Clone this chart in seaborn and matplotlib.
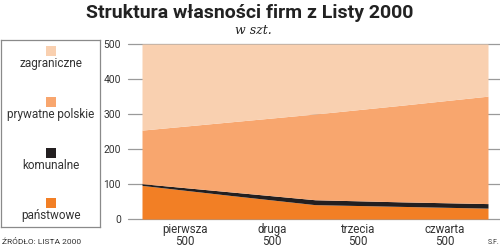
import matplotlib
matplotlib.use("Agg")
import matplotlib.pyplot as plt
import seaborn as sns
import numpy as np
import pandas as pd

# ---- data ----
categories = ["pierwsza\n500", "druga\n500", "trzecia\n500", "czwarta\n500"]
edge_x = [0, 1, 2, 3, 4]                    # boundaries of the four "500" groups
panstwowe = [96, 68, 41, 36, 31]
komunalne = [5, 10, 14, 13, 13]
prywatne = [153, 199, 245, 276, 307]
zagraniczne = [246, 223, 200, 175, 149]
series_names = ["państwowe", "komunalne", "prywatne polskie", "zagraniczne"]
series_colors = ["#f27f25", "#231f20", "#f8a66e", "#f9d0b0"]
yticks = [0, 100, 200, 300, 400, 500]

sns.set_theme(style="white")
plt.rcParams["font.family"] = ["Roboto", "DejaVu Sans"]

df = pd.DataFrame({"x": edge_x, "państwowe": panstwowe, "komunalne": komunalne,
                   "prywatne polskie": prywatne, "zagraniczne": zagraniczne})

fig = plt.figure(figsize=(5.0, 2.48), dpi=100)
ax = fig.add_axes([0.256, 29 / 248, 0.744, 175 / 248])

# grid lines (behind)
for t in yticks:
    ax.axhline(t, color="#9a9a9a", lw=0.9, zorder=0, clip_on=False)

bottom = np.zeros(len(edge_x))
for name, col in zip(series_names, series_colors):
    vals = df[name].to_numpy(dtype=float)
    ax.fill_between(df["x"], bottom, bottom + vals, color=col, lw=0, zorder=2)
    bottom = bottom + vals

ax.set_xlim(-14 / 86.5, 4 + 12 / 86.5)
ax.set_ylim(0, 500)
ax.set_yticks(yticks)
ax.set_yticklabels([str(t) for t in yticks], fontsize=7.4, color="#333333")
ax.set_xticks([0.5, 1.5, 2.5, 3.5])
ax.set_xticklabels(categories, fontsize=8.3, color="#333333", linespacing=0.92)
ax.tick_params(axis="y", length=0, pad=5)
ax.tick_params(axis="x", length=0, pad=3)
ax.set_xlabel("")
ax.set_ylabel("")
sns.despine(ax=ax, left=True, bottom=True, right=True, top=True)

# title and subtitle
fig.text(0.5, 1 - 13 / 248, "Struktura własności firm z Listy 2000", ha="center", va="center",
         fontsize=14, fontweight="bold", color="#222222")
fig.text(0.507, 1 - 31 / 248, "w szt.", ha="center", va="center", fontsize=9,
         style="italic", family="DejaVu Serif", color="#222222")

# legend box (spans figure pixels y=40..227)
lax = fig.add_axes([0.002, 21 / 248, 0.198, 187 / 248])
lax.set_xlim(0, 1)
lax.set_ylim(0, 187)
lax.set_xticks([])
lax.set_yticks([])
for s in lax.spines.values():
    s.set_color("#8a8a8a")
    s.set_linewidth(0.9)
leg_items = list(zip(series_names, series_colors))[::-1]
for (name, col), sy in zip(leg_items, [51, 102, 153, 203]):
    yy = 227 - sy
    lax.scatter([0.5], [yy], marker="s", s=60, color=col, lw=0)
    lax.text(0.5, yy - 12.5, name, ha="center", va="center", fontsize=8.5, color="#333333")

fig.text(2 / 500, 1 - 242 / 248, "ŹRÓDŁO: LISTA 2000", ha="left", va="center",
         fontsize=6, color="#333333")
fig.text(488 / 500, 1 - 242 / 248, "S.F.", ha="left", va="center", fontsize=5,
         color="#333333")

fig.savefig("out.png", dpi=100)
